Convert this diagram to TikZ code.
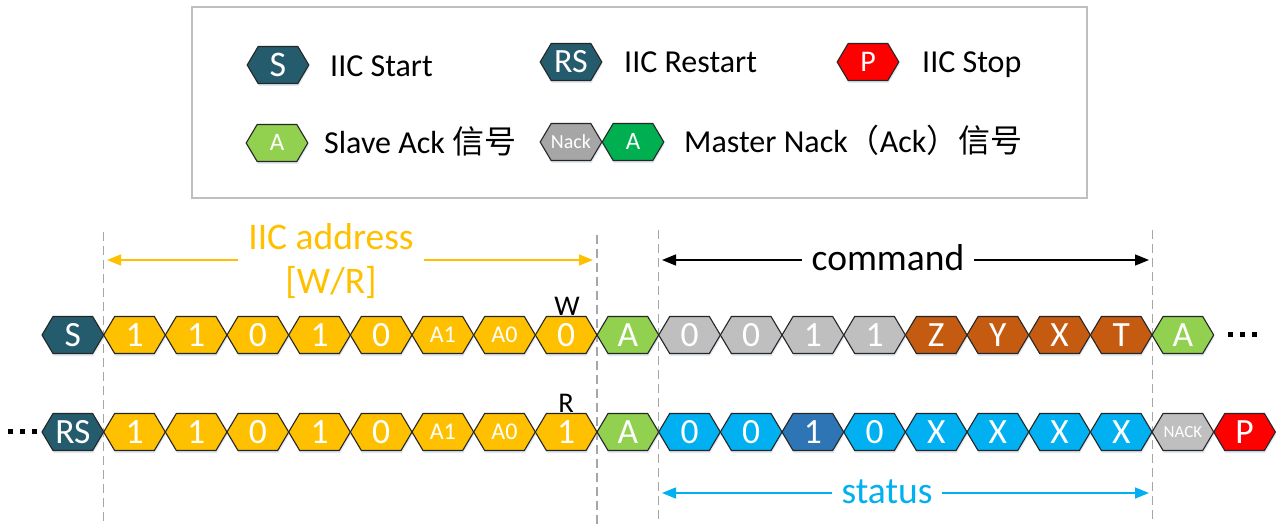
\documentclass[tikz,border=0pt]{standalone}
\usepackage{fontspec}
\setmainfont{Carlito}
\newfontfamily\cjk{Noto Sans CJK SC}
\usetikzlibrary{arrows.meta}
\definecolor{cTeal}{RGB}{36,92,110}
\definecolor{cYel}{RGB}{255,192,0}
\definecolor{cLG}{RGB}{146,208,80}
\definecolor{cGray}{RGB}{191,191,191}
\definecolor{cLGray}{RGB}{166,166,166}
\definecolor{cBrown}{RGB}{197,90,17}
\definecolor{cBlue}{RGB}{0,176,240}
\definecolor{cDBlue}{RGB}{46,117,182}
\definecolor{cRed}{RGB}{255,0,0}
\definecolor{cGreen}{RGB}{0,176,80}
\definecolor{cShadow}{RGB}{205,218,232}
\definecolor{cDash}{RGB}{166,166,166}
\newcommand\fs[1]{\fontsize{#1}{#1}\selectfont}
\newcommand\hx[6]{%
  \begin{scope}[shift={(#2,#3)}]
    \fill[cShadow,opacity=0.6] (-30,2.5) -- (-19,-15.5) -- (20.5,-15.5) -- (31.5,2.5) -- (20.5,21) -- (-19,21) -- cycle;
    \draw[hexline,fill=#4] (-30.83,0) -- (-19.83,-18.5) -- (19.83,-18.5) -- (30.83,0) -- (19.83,18.5) -- (-19.83,18.5) -- cycle;
  \end{scope}
  \node[hextext={#5}] (#1) at (#2,#3) {#6};}
\begin{document}
\begin{tikzpicture}[x=1pt,y=-1pt,
  hexline/.style={draw=black!85,line width=1.1pt,line join=miter},
  capbox/.style={inner sep=0pt,font=\fs{#1},text height={0.635*#1 pt},text depth=0pt},
  hextext/.style={capbox={#1},text=white,anchor=center},
  legtext/.style={capbox=32,text=black,anchor=west},
  vdash/.style={draw=cDash,line width=1.4pt,dash pattern=on 9pt off 5pt},
  dimarrow/.style={line width=1.5pt,{Triangle[length=14pt,width=11pt]}-{Triangle[length=14pt,width=11pt]}},
  dimlabel/.style={fill=white,inner xsep=10pt,inner ysep=0pt,font=\fs{37.5},align=center},
  dotsq/.style={fill=black}]
\useasboundingbox (0,0) rectangle (1283,524);
\fill[white] (0,0) rectangle (1283,524);

% legend
\draw[cGray,line width=1.2pt] (192,7) rectangle (1087,198);
\hx{lS}{278}{65}{cTeal}{36}{S}
\node[legtext] (tS) at (330,66) {IIC Start};
\hx{lRS}{571}{62}{cTeal}{34}{RS}
\node[legtext] (tRS) at (624,62) {IIC Restart};
\hx{lP}{868}{62}{cRed}{30}{P}
\node[legtext] (tP) at (922,62) {IIC Stop};
\hx{lA}{277}{143}{cLG}{25}{A}
\node[legtext] (tA) at (324,143) {Slave Ack {\cjk 信号}};
\hx{lN}{571}{142}{cLGray}{20}{Nack}
\hx{lAg}{633}{142}{cGreen}{25}{A}
\node[legtext] (tM) at (684,142) {Master Nack{\cjk （}Ack{\cjk ）信号}};

% dashed vertical lines
\coordinate (d1t) at (103.7,232); \coordinate (d1b) at (103.7,524);
\coordinate (d2t) at (597,235);   \coordinate (d2b) at (597,524);
\coordinate (d3t) at (658.7,230); \coordinate (d3b) at (658.7,524);
\coordinate (d4t) at (1152.3,230);\coordinate (d4b) at (1152.3,524);
\draw[vdash] (d1t) -- (d1b);
\draw[vdash] (d2t) -- (d2b);
\draw[vdash] (d3t) -- (d3b);
\draw[vdash] (d4t) -- (d4b);

% dimension arrows
\coordinate (aL) at (107,260); \coordinate (aR) at (593,260);
\draw[dimarrow,cYel] (aL) -- (aR);
\node[dimlabel,text=cYel,font=\fontsize{37.5}{44}\selectfont] (addr) at (331,261) {IIC address\\{}[W/R]};
\coordinate (cL) at (662,260); \coordinate (cR) at (1149,260);
\draw[dimarrow,black] (cL) -- (cR);
\node[dimlabel,text=black] (cmd) at (888,258) {command};
\coordinate (sL) at (662,493); \coordinate (sR) at (1149,493);
\draw[dimarrow,cBlue] (sL) -- (sR);
\node[dimlabel,text=cBlue] (st) at (887,492) {status};

% row 1
\foreach \c/\s/\t [count=\i from 0] in {cTeal/35.5/S,cYel/35.5/1,cYel/35.5/1,cYel/35.5/0,cYel/35.5/1,cYel/35.5/0,cYel/24/A1,cYel/24/A0,cYel/35.5/0,cLG/35.5/A,cGray/35.5/0,cGray/35.5/0,cGray/35.5/1,cGray/35.5/1,cBrown/35.5/Z,cBrown/35.5/Y,cBrown/35.5/X,cBrown/35.5/T,cLG/35.5/A}{
  \pgfmathsetmacro\cx{72.83+61.67*\i}
  \hx{ra\i}{\cx}{335}{\c}{\s}{\t}
}
% row 2
\foreach \c/\s/\t [count=\i from 0] in {cTeal/35.5/RS,cYel/35.5/1,cYel/35.5/1,cYel/35.5/0,cYel/35.5/1,cYel/35.5/0,cYel/24/A1,cYel/24/A0,cYel/35.5/1,cLG/35.5/A,cBlue/35.5/0,cBlue/35.5/0,cDBlue/35.5/1,cBlue/35.5/0,cBlue/35.5/X,cBlue/35.5/X,cBlue/35.5/X,cBlue/35.5/X,cGray/17/NACK,cRed/35.5/P}{
  \pgfmathsetmacro\cx{72.83+61.67*\i}
  \hx{rb\i}{\cx}{432}{\c}{\s}{\t}
}

% W / R labels
\node[capbox=28.5] (W) at (567,306) {W};
\node[capbox=28.5] (R) at (566,403) {R};

% continuation dots
\foreach \x in {1228,1240,1252} \fill[dotsq] (\x,332) rectangle ++(5,5);
\foreach \x in {8,20,32} \fill[dotsq] (\x,429) rectangle ++(5,5);
\end{tikzpicture}
\end{document}
